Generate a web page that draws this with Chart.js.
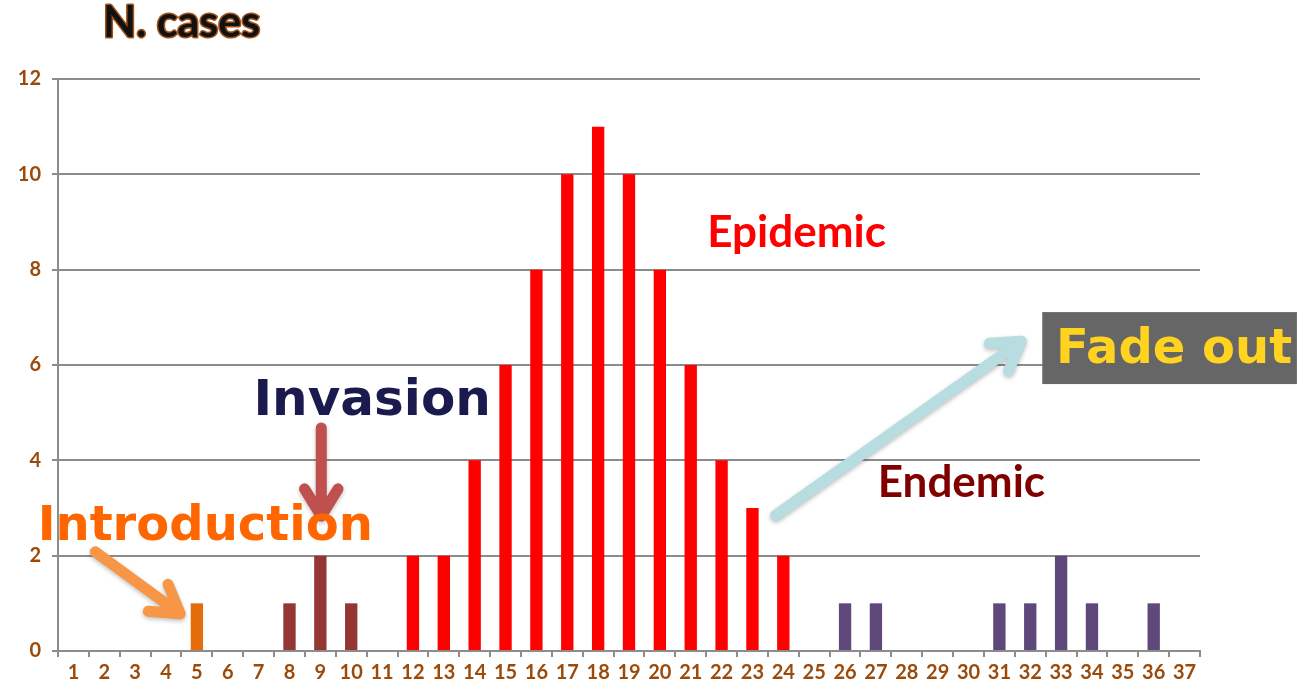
<!DOCTYPE html>
<html lang="en">
<head>
<meta charset="UTF-8">
<title>N. cases</title>
<script src="https://cdn.jsdelivr.net/npm/chart.js"></script>
<style>
  html, body { margin: 0; padding: 0; background: #fff; }
  #wrap { width: 1298px; height: 687px; }
</style>
</head>
<body>
<div id="wrap"><canvas id="casesChart" width="1298" height="687"></canvas></div>
<script>
// weeks 1..37 and number of cases per week
const weeks = ['1','2','3','4','5','6','7','8','9','10','11','12','13','14','15','16','17','18','19',
               '20','21','22','23','24','25','26','27','28','29','30','31','32','33','34','35','36','37'];
const cases = [0,0,0,0,1,0,0,1,2,1,0,2,2,4,6,8,10,11,10,8,6,4,3,2,0,1,1,0,0,0,1,1,2,1,0,1,0];
// phase of each week -> colour
const phases = ['','','','','intro','','','inv','inv','inv','','epi','epi','epi','epi','epi','epi','epi','epi',
                'epi','epi','epi','epi','epi','','end','end','','','','end','end','end','end','','end',''];
const phaseColors = { intro: '#E46C0A', inv: '#943634', epi: '#FF0000', end: '#5F497A', '': '#5F497A' };

const yTicks = [0, 2, 4, 6, 8, 10, 12];

// text labels placed in data units (x = week index, y = cases)
const labels = [
    { text: 'Epidemic', x: 23.43, y: 8.77, color: '#FF0000', font: 'bold 44px Lato' },
    { text: 'Invasion', x: 9.68, y: 5.22, color: '#1A1A4E', font: 'bold 50px "DejaVu Sans"' },
    { text: 'Introduction', x: 4.27, y: 2.60, color: '#FF6600', font: 'bold 48px "DejaVu Sans"' },
    { text: 'Endemic', x: 28.77, y: 3.52, color: '#800000', font: 'bold 44px Lato' }
];
const arrows = [
    { x0: 0.71, y0: 2.08, x1: 3.46, y1: 0.78, color: '#F79646' },
    { x0: 8.03, y0: 4.68, x1: 8.03, y1: 2.83, color: '#C0504D' },
    { x0: 22.75, y0: 2.85, x1: 30.71, y1: 6.50, color: '#B7DDE0' }
];

const annotate = {
    id: 'annotate',
    afterDatasetsDraw(chart) {
        const ctx = chart.ctx;
        const xs = chart.scales.x, ys = chart.scales.y;
        ctx.save();

        // title
        ctx.font = 'bold 43px Lato';
        ctx.textAlign = 'left';
        ctx.textBaseline = 'middle';
        ctx.lineJoin = 'round';
        ctx.lineWidth = 3;
        ctx.strokeStyle = '#A0521A';
        ctx.strokeText('N. cases', 103, 23);
        ctx.fillStyle = '#111';
        ctx.fillText('N. cases', 103, 23);

        // arrows
        for (const a of arrows) {
            const px0 = xs.getPixelForValue(a.x0), py0 = ys.getPixelForValue(a.y0);
            const px1 = xs.getPixelForValue(a.x1), py1 = ys.getPixelForValue(a.y1);
            const ang = Math.atan2(py1 - py0, px1 - px0);
            ctx.strokeStyle = a.color;
            ctx.lineWidth = 11;
            ctx.lineCap = 'round';
            ctx.shadowColor = 'rgba(0,0,0,0.25)';
            ctx.shadowBlur = 4;
            ctx.shadowOffsetY = 2;
            ctx.beginPath();
            ctx.moveTo(px0, py0);
            ctx.lineTo(px1, py1);
            const head = 32;
            ctx.moveTo(px1 - head * Math.cos(ang - 0.55), py1 - head * Math.sin(ang - 0.55));
            ctx.lineTo(px1, py1);
            ctx.lineTo(px1 - head * Math.cos(ang + 0.55), py1 - head * Math.sin(ang + 0.55));
            ctx.stroke();
        }
        ctx.shadowColor = 'transparent';

        // labels
        ctx.textAlign = 'center';
        for (const l of labels) {
            ctx.font = l.font;
            ctx.fillStyle = l.color;
            ctx.fillText(l.text, xs.getPixelForValue(l.x), ys.getPixelForValue(l.y));
        }

        // fade out box
        const bx0 = xs.getPixelForValue(31.39), bx1 = xs.getPixelForValue(39.64);
        const by0 = ys.getPixelForValue(7.11), by1 = ys.getPixelForValue(5.60);
        ctx.fillStyle = '#666666';
        ctx.fillRect(bx0, by0, bx1 - bx0, by1 - by0);
        ctx.font = 'bold 48px "DejaVu Sans"';
        ctx.fillStyle = '#FFD320';
        ctx.fillText('Fade out', xs.getPixelForValue(35.66), ys.getPixelForValue(6.31));
        ctx.restore();
    }
};

const tickFont = { family: 'Lato', size: 20, weight: 'bold' };

new Chart(document.getElementById('casesChart').getContext('2d'), {
    type: 'bar',
    data: {
        labels: weeks,
        datasets: [{
            data: cases,
            backgroundColor: phases.map(p => phaseColors[p]),
            barPercentage: 0.4,
            categoryPercentage: 1
        }]
    },
    options: {
        responsive: false,
        animation: false,
        layout: { padding: { left: 0, right: 98, top: 79, bottom: 0 } },
        plugins: { legend: { display: false }, tooltip: { enabled: false } },
        scales: {
            x: {
                grid: { offset: true, drawOnChartArea: false, color: '#8c8c8c', lineWidth: 2, tickLength: 6 },
                border: { color: '#8c8c8c', width: 2 },
                ticks: { color: '#9C4A0A', font: tickFont, maxRotation: 0, autoSkip: false, padding: 4 },
                afterFit(scale) { scale.height = 36; }
            },
            y: {
                min: 0,
                max: 12,
                afterBuildTicks(scale) { scale.ticks = yTicks.map(v => ({ value: v })); },
                grid: { color: '#8c8c8c', lineWidth: 2, tickLength: 6 },
                border: { color: '#8c8c8c', width: 2 },
                ticks: { color: '#9C4A0A', font: tickFont, padding: 11 },
                afterFit(scale) { scale.width = 58; }
            }
        }
    },
    plugins: [annotate]
});
</script>
</body>
</html>
